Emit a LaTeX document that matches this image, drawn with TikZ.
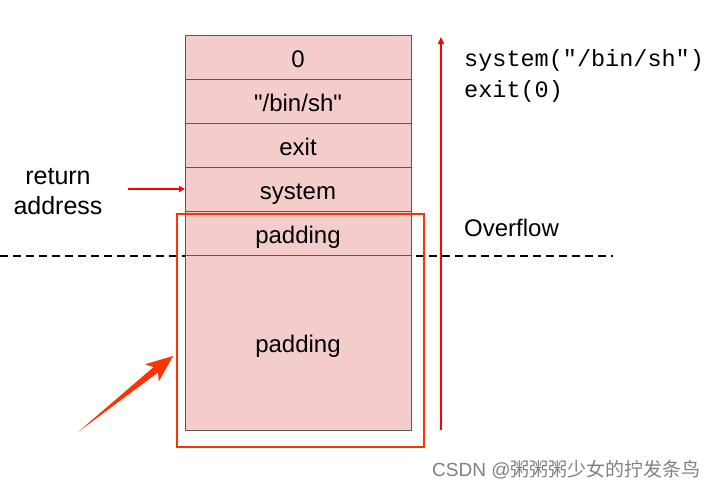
\documentclass[tikz,border=0pt]{standalone}
\usepackage{fontspec}
\setmainfont{Liberation Sans}
\setmonofont{Liberation Mono}
\newfontfamily\cjkfont{Noto Sans CJK SC}
\usepackage{tikz}
\usetikzlibrary{calc, positioning, arrows.meta}
\definecolor{slotfill}{HTML}{F4CCCC}
\definecolor{slotline}{HTML}{595959}
\definecolor{ovred}{HTML}{FF3300}

\tikzset{
    slot/.style = {draw=slotline, fill=slotfill, line width=1pt, outer sep=0pt, minimum width=226pt, minimum height=44pt, inner sep=0pt, text height=20pt, text depth=0pt, font=\fontsize{24}{28}\selectfont},
    redline/.style = {draw=red, line width=1.6pt, -{Triangle[length=7pt, width=6pt]}}
}

\begin{document}
\begin{tikzpicture}[x=1pt, y=1pt]
    \useasboundingbox (0,0) rectangle (720,-493);

    \coordinate (dashL) at (0,-256);
    \coordinate (dashR) at (613,-256);
    \draw[dashed, dash pattern=on 8pt off 5pt, line width=1.2pt] (dashL) -- (dashR);

    % the stack
    \node[slot] (zero) at (298,-57) {0};
    \node[slot, below = 0pt of zero] (binsh) {\textquotedbl/bin/sh\textquotedbl};
    \node[slot, below = 0pt of binsh] (exit) {exit};
    \node[slot, below = 0pt of exit] (sys) {system};
    \node[slot, below = 0pt of sys] (pad1) {padding};
    \node[slot, below = 0pt of pad1, minimum height=175pt] (pad2) {padding};

    \node[draw=ovred, line width=1.2pt, minimum width=247pt, minimum height=233pt, inner sep=0pt] (ovbox) at (300.5,-330.5) {};

    \node[align=center, font=\fontsize{25}{30}\selectfont] (retaddr) at (58,-192) {return\\address};
    \coordinate (raStart) at (128,-189);
    \draw[redline, -{Triangle[length=6pt, width=6pt]}] (raStart) -- (sys.west);

    \coordinate (ovbot) at (441,-430);
    \coordinate (ovtop) at (441,-37);
    \draw[redline] (ovbot) -- (ovtop);

    \node[anchor=north west, align=left, font=\ttfamily\fontsize{23.5}{31}\selectfont, inner sep=0pt] (code) at (464,-49) {system("/bin/sh")\\exit(0)};
    \node[anchor=west, font=\fontsize{24}{28}\selectfont, inner sep=0pt] (overflow) at (464,-228) {Overflow};

    % big arrow
    \coordinate (tail) at (78,-432);
    \coordinate (tip) at (173,-356);
    \coordinate (hb) at ($(tip)!22pt!(tail)$);
    \coordinate (hc) at ($(tip)!27pt!(tail)$);
    \fill[ovred] (tail) -- ($(hb)!3.5pt!90:(tip)$) -- ($(hc)!11pt!90:(tip)$) -- (tip)
        -- ($(hc)!11pt!-90:(tip)$) -- ($(hb)!3.5pt!-90:(tip)$) -- cycle;

    \node[anchor=west, text=gray, font=\fontsize{19}{22}\selectfont, inner sep=0pt] (mark) at (432,-470) {CSDN @{\cjkfont 粥粥粥少女的拧发条鸟}};
\end{tikzpicture}
\end{document}
